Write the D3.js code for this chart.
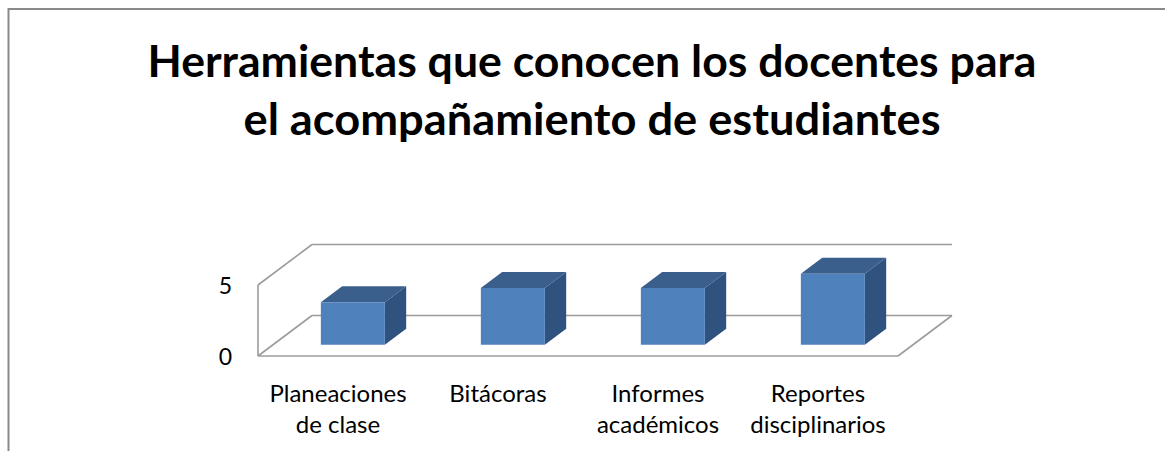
<!DOCTYPE html>
<html lang="es">
<head>
<meta charset="utf-8">
<title>Herramientas que conocen los docentes</title>
<script src="https://d3js.org/d3.v7.min.js"></script>
<style>
  body { margin: 0; background: #fff; }
  text { font-family: Lato, "Noto Sans", sans-serif; fill: #000; }
</style>
</head>
<body>
<svg id="chart" width="1165" height="451"></svg>
<script>
// data
const categories = [["Planeaciones", "de clase"], ["Bitácoras"], ["Informes", "académicos"], ["Reportes", "disciplinarios"]];
const values = [3, 4, 4, 5];
const yTicks = [0, 5];
const titleLines = ["Herramientas que conocen los docentes para", "el acompañamiento de estudiantes"];

const svg = d3.select("#chart");

// outer frame (right and bottom edges fall outside the picture)
svg.append("rect")
  .attr("x", 8.5).attr("y", 9)
  .attr("width", 1300).attr("height", 600)
  .attr("fill", "none").attr("stroke", "#898989").attr("stroke-width", 2);

// title
const titleWidths = [889, 697];
svg.selectAll(".title").data(titleLines).enter()
  .append("text")
  .attr("class", "title")
  .attr("x", 592)
  .attr("y", (d, i) => 77 + i * 58)
  .attr("text-anchor", "middle")
  .attr("font-weight", "bold")
  .attr("font-size", 43)
  .attr("textLength", (d, i) => titleWidths[i])
  .attr("lengthAdjust", "spacingAndGlyphs")
  .text(d => d);

// 3d plot geometry
const origin = {x: 258, y: 356};   // front-left corner of floor
const plotWidth = 640;
const depth = {dx: 54, dy: 40.5};

const x = d3.scaleBand()
  .domain(d3.range(categories.length))
  .range([0, plotWidth])
  .paddingInner(0.6)
  .paddingOuter(0.3);

const y = d3.scaleLinear().domain([0, 5]).range([0, 71]);
const z = d3.scaleLinear().domain([0, 1]).range([0, 1]);

function P(px, v, pz) {
  return [origin.x + px + z(pz) * depth.dx, origin.y - y(v) - z(pz) * depth.dy];
}

const g = svg.append("g");
const wallColor = "#9c9c9c";
function seg(a, b) {
  g.append("line")
    .attr("x1", a[0]).attr("y1", a[1])
    .attr("x2", b[0]).attr("y2", b[1])
    .attr("stroke", wallColor).attr("stroke-width", 1.6);
}

// gridlines on left wall + back wall
yTicks.forEach(t => {
  seg(P(0, t, 0), P(0, t, 1));
  seg(P(0, t, 1), P(plotWidth, t, 1));
});
// left wall front edge
seg(P(0, 0, 0), P(0, d3.max(yTicks), 0));
// floor front and right edges
seg(P(0, 0, 0), P(plotWidth, 0, 0));
seg(P(plotWidth, 0, 0), P(plotWidth, 0, 1));

// bars
const z0 = 0.275, z1 = 0.67;
const line = d3.line();
const bars = g.selectAll(".bar").data(values).enter().append("g").attr("class", "bar");

bars.append("path")   // side
  .attr("d", (v, i) => {
    const xr = x(i) + x.bandwidth();
    return line([P(xr, 0, z0), P(xr, v, z0), P(xr, v, z1), P(xr, 0, z1)]) + "Z";
  })
  .attr("fill", "#30527e");

bars.append("path")   // top
  .attr("d", (v, i) => {
    const xl = x(i), xr = x(i) + x.bandwidth();
    return line([P(xl, v, z0), P(xr, v, z0), P(xr, v, z1), P(xl, v, z1)]) + "Z";
  })
  .attr("fill", "#3b5f8d");

bars.append("path")   // front
  .attr("d", (v, i) => {
    const xl = x(i), xr = x(i) + x.bandwidth();
    return line([P(xl, 0, z0), P(xl, v, z0), P(xr, v, z0), P(xr, 0, z0)]) + "Z";
  })
  .attr("fill", "#4f81bd");

// value axis labels
g.selectAll(".ytick").data(yTicks).enter()
  .append("text")
  .attr("class", "ytick")
  .attr("x", origin.x - 26)
  .attr("y", t => P(0, t, 0)[1] + 3)
  .attr("text-anchor", "end")
  .attr("dominant-baseline", "middle")
  .attr("font-size", 23)
  .text(t => t);

// category labels
const cat = g.selectAll(".cat").data(categories).enter()
  .append("text")
  .attr("class", "cat")
  .attr("text-anchor", "middle")
  .attr("font-size", 24);

cat.selectAll("tspan").data((d, i) => d.map(s => ({s, i}))).enter()
  .append("tspan")
  .attr("x", d => origin.x + x(d.i) - x.step() * x.paddingInner() / 2 + x.step() / 2)
  .attr("y", (d, j) => 402 + j * 31)
  .text(d => d.s);
</script>
</body>
</html>
